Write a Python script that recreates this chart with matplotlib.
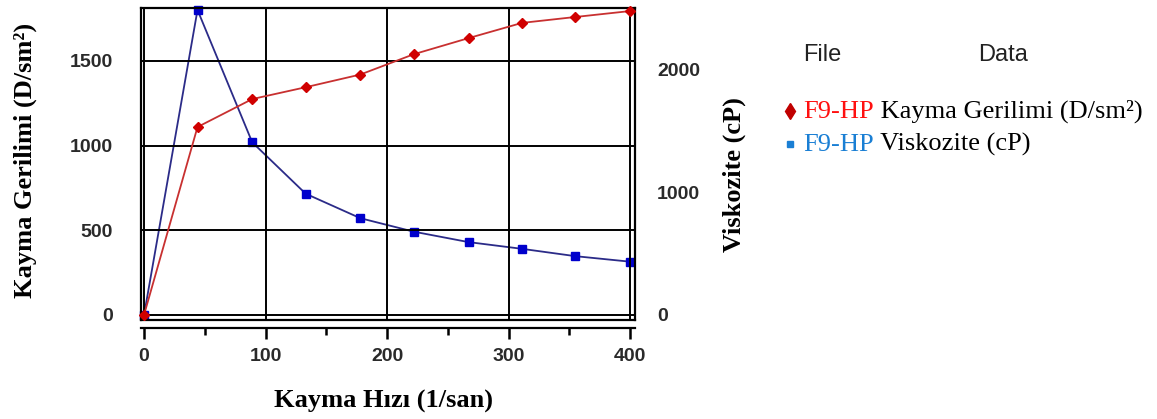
import matplotlib
matplotlib.use("Agg")
import matplotlib.pyplot as plt
from matplotlib.lines import Line2D

# values
shear_rate = [0, 44, 89, 133, 178, 222, 267, 311, 355, 400]
shear_stress = [0, 1110, 1275, 1345, 1420, 1540, 1635, 1725, 1760, 1795]
viscosity = [0, 2490, 1410, 990, 790, 680, 595, 540, 480, 435]

x_ticks = [0, 100, 200, 300, 400]
x_minor = [50, 150, 250, 350]
stress_ticks = [0, 500, 1000, 1500]
visc_ticks = [0, 1000, 2000]

stress_label = "Kayma Gerilimi (D/sm\u00b2)"
visc_label = "Viskozite (cP)"
rate_label = "Kayma H\u0131z\u0131 (1/san)"
series_name = "F9-HP"

W, H = 1157, 419
SERIF = "Liberation Serif"
SANS = "Liberation Sans"
TICK_COLOR = "#2a2a2a"
RED_LINE, RED_MK = "#c83030", "#d00000"
BLUE_LINE, BLUE_MK = "#2b2b88", "#0000cc"


def fx(x):
    return x / W


def fy(y):
    return 1 - y / H


fig = plt.figure(figsize=(W / 100, H / 100), dpi=100)
ax = fig.add_axes([fx(141), fy(320), (635 - 141) / W, (320 - 8) / H])
ax2 = ax.twinx()

ax.set_xlim(-2.5, 404)
ax.set_ylim(-30, 1813)
ax2.set_ylim(-41, 2506)

ax.grid(True, color="black", lw=1.4, zorder=0)
ax.set_axisbelow(True)

ax2.plot(shear_rate, viscosity, color=BLUE_LINE, lw=1.3, marker="s", ms=5.2,
         mfc=BLUE_MK, mec=BLUE_MK, clip_on=False, zorder=3)
ax.plot(shear_rate, shear_stress, color=RED_LINE, lw=1.3, marker="D", ms=5,
        mfc=RED_MK, mec=RED_MK, clip_on=False, zorder=3)
# red series drawn over the blue one
ax.set_zorder(ax2.get_zorder() + 1)
ax.patch.set_visible(False)

# x axis detached below the frame
ax.set_xticks(x_ticks)
ax.set_xticks(x_minor, minor=True)
ax.spines["bottom"].set_position(("outward", 6))
ax.spines["bottom"].set_linewidth(1.6)
ax.axhline(-30, color="black", lw=1.6, clip_on=False)
ax.tick_params(axis="x", which="major", length=8, width=1.8, direction="out",
               pad=6, colors="black", labelcolor=TICK_COLOR)
ax.tick_params(axis="x", which="minor", length=5, width=1.8, direction="out")

ax.set_yticks(stress_ticks)
ax.tick_params(axis="y", length=0, pad=20, labelcolor=TICK_COLOR)
ax2.set_yticks(visc_ticks)
ax2.tick_params(axis="y", length=0, pad=16, labelcolor=TICK_COLOR)

for lab in ax.get_xticklabels() + ax.get_yticklabels() + ax2.get_yticklabels():
    lab.set_fontfamily(SANS)
    lab.set_fontweight("bold")
    lab.set_fontsize(14)

for side in ["left", "top", "right"]:
    ax.spines[side].set_linewidth(1.6)
for side in ax2.spines:
    ax2.spines[side].set_visible(False)

# axis titles
fig.text(fx(384), fy(401), rate_label, ha="center", va="center",
         family=SERIF, weight="bold", fontsize=19)
fig.text(fx(25), fy(160), stress_label, ha="center", va="center", rotation=90,
         family=SERIF, weight="bold", fontsize=19)
fig.text(fx(734), fy(175), visc_label, ha="center", va="center", rotation=90,
         family=SERIF, weight="bold", fontsize=19)

# legend panel
fig.text(fx(803), fy(55), "File", ha="left", va="center", family=SANS,
         fontsize=17, color="#222222")
fig.text(fx(978), fy(55), "Data", ha="left", va="center", family=SANS,
         fontsize=17, color="#222222")

rows = [
    (118, "d", "#c00000", 8, "#ff1010", " Kayma Gerilimi (D/sm\u00b2)"),
    (151, "s", "#1a7fd4", 5, "#1a7fd4", " " + visc_label),
]
for base, mk, mcol, msz, ncol, rest in rows:
    fig.add_artist(Line2D([fx(790)], [fy(base - 7)], transform=fig.transFigure,
                          marker=mk, ms=msz, color=mcol, ls="none"))
    t1 = fig.text(fx(803), fy(base), series_name, ha="left", va="baseline",
                  family=SERIF, fontsize=19, color=ncol)
    ax.annotate(rest, xy=(1, 0), xycoords=t1, ha="left", va="bottom",
                family=SERIF, fontsize=19, color="black",
                annotation_clip=False)

fig.savefig("out.png", dpi=100)
